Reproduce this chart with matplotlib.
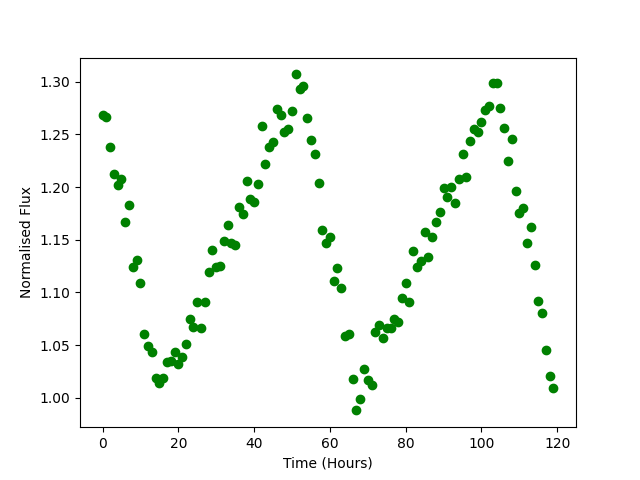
import matplotlib
matplotlib.use('Agg')
import matplotlib.pyplot as plt

# normalised flux, one reading per hour
flux = [1.268, 1.267, 1.238, 1.212, 1.202, 1.208, 1.167, 1.183, 1.124, 1.131,
        1.109, 1.061, 1.049, 1.043, 1.019, 1.014, 1.019, 1.034, 1.035, 1.043,
        1.032, 1.039, 1.051, 1.075, 1.067, 1.091, 1.066, 1.091, 1.119, 1.140,
        1.124, 1.125, 1.149, 1.164, 1.147, 1.145, 1.181, 1.174, 1.206, 1.189,
        1.186, 1.203, 1.258, 1.222, 1.238, 1.243, 1.274, 1.268, 1.252, 1.255,
        1.272, 1.307, 1.293, 1.296, 1.266, 1.245, 1.231, 1.204, 1.159, 1.147,
        1.153, 1.111, 1.123, 1.104, 1.059, 1.061, 1.018, 0.988, 0.999, 1.027,
        1.017, 1.012, 1.062, 1.069, 1.057, 1.066, 1.066, 1.075, 1.072, 1.095,
        1.109, 1.091, 1.139, 1.124, 1.130, 1.157, 1.134, 1.153, 1.167, 1.176,
        1.199, 1.191, 1.200, 1.185, 1.208, 1.231, 1.210, 1.244, 1.255, 1.252,
        1.262, 1.273, 1.277, 1.299, 1.299, 1.275, 1.256, 1.225, 1.246, 1.196,
        1.175, 1.180, 1.147, 1.162, 1.126, 1.092, 1.080, 1.045, 1.021, 1.009]
hours = list(range(len(flux)))

plt.figure(figsize=(6.4, 4.8), dpi=100)
plt.plot(hours, flux, 'go')
plt.xlabel('Time (Hours)')
plt.ylabel('Normalised Flux')
plt.savefig('out.png')
